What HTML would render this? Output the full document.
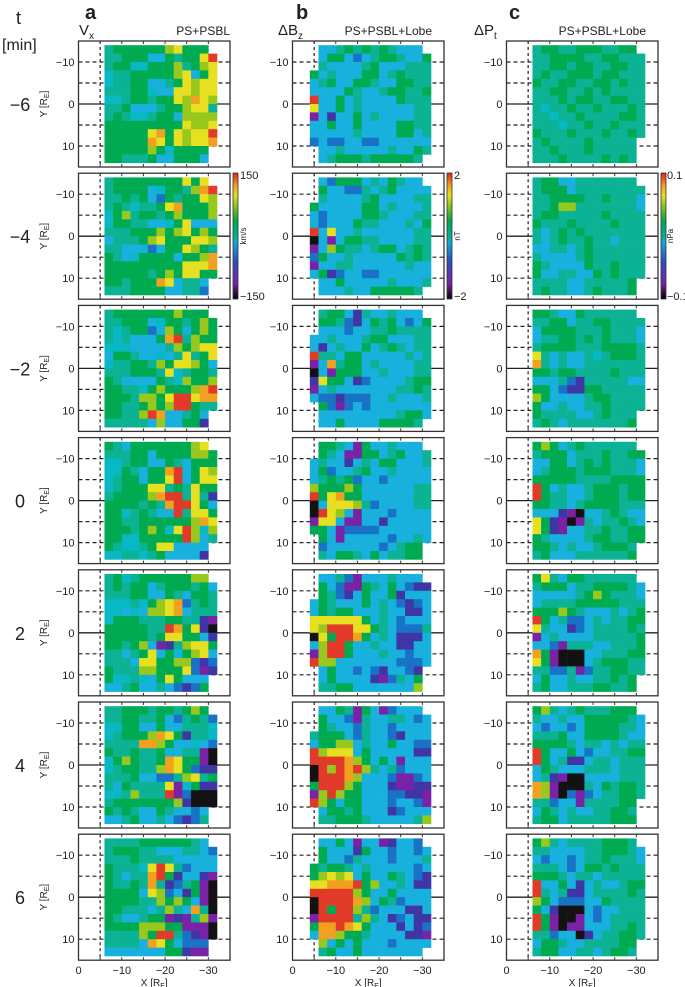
<!DOCTYPE html>
<html><head><meta charset="utf-8"><style>
body{margin:0;background:#fff;width:685px;height:987px;overflow:hidden;font-family:"Liberation Sans",sans-serif}
svg{position:absolute;left:0;top:0}
</style></head><body>
<svg id="fig" width="685" height="987" viewBox="0 0 685 987"></svg>
<script>
// colour codes: K black, P purple, V violet, B blue, S sky, C cyan, T teal, G green, L lime, Y yellow, O orange, R red, . empty
const vxPanels = [
["TGGGGGGLYGGG.","TTGGGSSGTGGYR","TGGCCGGGLTGLY","CTTGGGGGLYSGY","CTTGGSSTGYLYY","TTTGGCSSYYLYY","CCTGGTGGYLOYL","TTGSSSTGGLYYT","TGTCCTGGSLLLL","GGGGGGGGGYLLY","GGGGGYOGYLYYR","GGGGGOYGYLYYO","GGGGGLGCGGGG.","GGTTTGSSGGGS."],
["TGGGGGGGGYGY.","TGGGGSCGGTLOR","TTGTGSBGTGGYL","TGTCTTGYOGGGL","CGLTGGTGLGGGL","CGGTTSSCGYSSS","TTTGGGLGLYGLG","STTTGLYGGGYYL","TTSSSBSGGYLGT","GTSCGGGGSGGLO","GGGGGGGGGYYYO","GGGGGTGLGYYGG","GGTGGGOYSTTS.","TTTGGGGSSTTB."],
["TGGGGGGGLGGG.","TTGGGSCGGTGLG","TCTGGBSLGSGLG","TCTSSSGORTLGG","CCCSSSSTLGLYY","SGGTSSCSTYTGY","CTTGGTLGYYLGS","TTTGGGTYCTGGT","GTSSSSGTCLGGL","GGTTCGLGGGLOR","GGGTLLGYRRYOO","GGTTGLGLRRGTT","GGTTLROSSTGS.","TTTTTSLSSGGV."],
["GTSGGGGGGGLY.","TTTGGSGGGGLLG","CCTGGSSGTSGGG","CCGTSGGORSGYL","CTGGSGGYRSGYY","CTGGGYYTGTYGG","TGGGGLORRTYTV","GGGGTGTORRYGS","GGCTGTSSRTYYG","GGTTGGGGGGLOY","GGGTGLGCYRLCL","GGCCGGGGGRLST","GTCCTGYYSSSS.","CCTTCTGSSSSV."],
["TGCTGGGGGGLL.","TGTGGSTGGGTGS","TTTGGSSGTSGGT","CCCTCGLYOBTGT","CCSCSLLYOSTTT","CGGGTTTGGTTVP","GGGGGTTROGYVK","GGGGGTGYYGGSV","GGTGLSPVTLYYG","TTSTGYSGSGLYS","TTTSYYGGLLBVB","GTTTLLGGGYBPV","GCCTCSGYGSSS.","SSTGSSTSBVBG."],
["TTGGGTGGTGLG.","TTGGTTGSBTGTB","CCGGSSGSSTTTC","CTGGGLOYGVTTC","TTTTOOLGSSCSB","GTTGTTGSSTTPK","CGLGTTGOYGGPK","CTGGTTLOYGBVV","TTTGSSBBTLYTG","TSGTTTTYPCGVV","CCTLTTTRPBKKK","TGGGGGGGLVKKK","GTGTSSGTSSBS.","SSTGSSTSBVBT."],
["TTTTGGGGGGTS.","TGGGTTSSSTTSB","TTTGTTTTSSSSS","GTTTCYRYTBSSS","GTSTTORGVSSVP","GTTGTOTVBTGPK","GGGGSYLBSVGPK","GGGGTTLGLGSPK","GGTTTSTLTSOTK","GTSSTGGPVPTLP","GGGGLLLGGPPPK","TTTTLGRRTBVPK","TTTTSOYGSBBB.","SSSSSSSGGVPP."]
];
const dbzPanels = [
[".SSTGTGTGTSSS.",".SGGSBSTGGTSSG",".TSSSSTGSSSTTT","GSTSSSGGSTGTTT","STGSSGGTSSGGTT","SSSSGTSSTGGTTG","RSSGSTSSSSGTTT","YSSGSTSSSSSSTT","PSVSSGSTSSSSTT","SSGSSGSSSSGGTT","SSSSSTSSSSGGST","BSBBSSBBSSSSSS",".SSTSSSSSTSSGT",".STGGGTGGGGGT."],
[".SBGGGSTSGTSS.",".GSSBBTSTGSSSS",".TSSSSTGSSSSTT","GSSSSSGGSTSSST","SBSSSSGGTSSSTT","SBSSSGTTSSSTSG","RSYSSTSSSSSSTT","KSPSGGTTSSSSTT","PSLGTTSTGGSTGT","BGSSTSSSSSGTGT","PSSTTSSSSSSTSS","SGVBSSBBSSSSSS",".SSGSSSSSTSSST",".SSSTSSGGGGGT."],
[".TGGSVTSSTSSS.",".GGTBVSGTGSBSG",".SSSBSSTTGTTTT","SSTSSSTGGSSSTT","SVSTSSGSTGTSTT","RTTSGGSSSSSTST","PSOTGGSTSSSSTT","KSPGGGSSTSSSTT","VYGGSVBSSSSTGG","PSTSSSSSSSTTGT","SBBVBBBSSTSSST",".GBPBSBSSSSSSS",".SSSSSSSSSTGGS",".SSGSSSSGGGGT."],
[".GGTSPGSSTSSS.",".GTSPPGGSTGSST","STSSVSTSGGSSST","SGBSSTGSSTSSSS","STGTGBSSBSSSSS","LGGGLGSSSSSSTT","RGYOGGSSSSSSTT","KSYYYLTBSSSSTT","KRYLSPSSSBSSSS","PYYSPPSSVSSSSS","GGSPBBBBSSSSSS",".GSPSSSSSBSSTS",".BSSSSSSBSTGG.",".TSGGTSGSTTGG."],
[".SSTBPSSSTSSS.",".GSBPPGTSGSBVV",".GTBVSGSSGVSSS","SGTSSSGSTSBVBS","SGTGGSSSTSSVVS","YYYYYYGSTSBSSS","YLRRRYYGTSBBBT","KYGRROGSTSVVVS","SLRRGSSTSSVVSS","PLRRGSSSTSSBSS","RLLSSSSSSSBBBS",".SGSSBSBVSSBV.",".SGSSSSVPBTSG.",".TTGGSSSSSSSL."],
[".SSGTPGSPBSSS.",".GSSBPTSSTTSBS",".GTSSBTSSBSSSS","TGGGSBTSSBVSSS","SGGLLSTSSGSSBB","RLYYYSGSSSSSVV","RRRROLGSGSPSSS","KRLRORLTSTBSSS","KRRROLSSSBPPBS","GRRRLGSSSVPPVV","PLRLGGSSSBBVVP","RLGSGGSSSBSSBP",".SGGTGSSSVBSSS",".TTGGGTSSSSSTL"],
[".SSGSPSSPVSSB.",".GSSSVGSSBSSBS",".GSSBTSSSBSSST","GTGGTSTSSSSSBS","GLYLYSGSSGTSBV","YYOOORGLSSTSVV","RRRRRLGSSGSSSS","KRRRROLSGTBSSS","KRGRRLTBSSSVVS","PRRRRTLTSVBSVV","GOOROYGSSSVSVB","SOOLGGTSSSSVVP",".LSGSGSSSBSSSS",".TGSSGSSSSSSS."]
];
const dptPanels = [
["TGGTTGGGTTGG.","TTGGGGTTGGTTT","TTGGTGGTTGGTT","TGTTGGGTGGTTT","GTTGGTTGGTGTT","TTGGTTGTGTTTT","TTTGTGGTTGGTT","TCTTGTTGTTTGT","TTCTTGTTTTGGT","TTTCTTGTTGTTT","GTTTGTTTGTTGT","TGTTTTGTTTTT.","TTGTTTGTTTTT.","TTTGTTTTGTGT."],
["TGGSSTTTTTTT.","TGGGSTTTTTTTT","TTGGGGTTGTTTS","TTGLLTTTTTTTS","TGGTTTTTGTTTT","GTTTGTTTTGTTT","TSTGTGTTTTTTT","TSTGTTGTTSTTT","SSTTSTGTTTTTT","TSSSSTGTTTTTT","GTSSSSGTTGTTT","GSSTTSSGTGTTT","TTTTSSTTTTTG.","TGTTSSTGTTTG."],
["GGTSSGTTTTTT.","TTGGSTTGGTTTT","SGGGGTTTGTTTS","STTGGTGTGTTTS","TGGGGTTTGGGGT","YTSTSSTCTGGGT","OTSTSSTTTTTTT","GGTGGTTTTGTTT","SSSTBVTTTTTSS","GGSBVVGGTTTTT","LGSSSSTGGTTTT","GSSTSSTTGTTTT","GTTTTSSTGTTT.","TGTSTTTTTTTG."],
["GLGSTGTTTTTT.","TGGGSTTTGTTGG","SSGGSTGTGTTTS","STGGGTGGGTTTS","GGGGGTTTTGGGG","RGSTSSTGGGTGG","RGTTSSTGGGTGG","GGTTSTGGGGTTT","SSSVPKSSTGTSS","YGVPKPTSTTGTS","YGVPSSTTGTTGG","GTSSSSTGGTTGG","GGTSTSSTGGGT.","TGSSSTTTTTTG."],
["GYTSGGTTTTTT.","TGGGSTTGGGGTS","SSSSSTGLGTTTS","STTTTGGGGGTTT","GGGLGTSSSTSTG","RGSTBBSTSTTGG","YTSSVBSTTTTGT","PSTSSSSTTTTTG","SSBPTTTSSTTTG","OGPKKKSSTTTGG","YGPKKKSTGGGTT","TTBBTPBTTGGTT","SGSSTSSTTGTG.","TGSSTTTGGTTG."],
["GLTSTGTTTGGG.","TSSTSSGGGGGTS","SBSSBSGGGGTTS","TTTGSSGGGGTSS","GGGGTSTTSTSTT","RGSSGSBSSTTGG","RGSTVVSTTSTTT","SGTSSSTTTSTTT","STVPKKSSSSTTT","OLPKKKTSGTGGT","OLPKBPBSTTGGT","TTBSSPTTTTGG.","SGTSTSSTTGGT.","TGGSTTTTTGGG."],
["GLTSTTTTGGGT.","TTSSSSTTGGGTS","SBSSBSTTGTTTS","TTTSBSGGTGTTT","GGGTSTTSTTTTT","RSSGSVSTSSTGG","RTSTVVSTTTTGT","LGSBBBSSGTTTT","GSVKKKSBSSTTT","RGPKKPSBSTTTT","RGPKPPSSSTTGT","TTBSSKVSTTGGT","SGGTSSTTTTGG.","TGGSSTTSTGGT."]
];
const timeLabels = ["−6","−4","−2","0","2","4","6"];
const xTicks = [0,-10,-20,-30];
const yTicks = [-10,0,10];

const COL={K:"#121212",P:"#7a22a6",V:"#3f35a5",B:"#1a72c6",S:"#18b0dc",C:"#08b8c4",T:"#0cb294",G:"#00aa50",L:"#98c81e",Y:"#e6e020",O:"#f2a020",R:"#e23a28"};
const NS="http://www.w3.org/2000/svg";
const svg=document.getElementById('fig');
function mk(t,a,p){const e=document.createElementNS(NS,t);for(const k in a)e.setAttribute(k,a[k]);(p||svg).appendChild(e);return e;}
const colLeft=[78.5,292.5,506.5], W=151.5, H=126, PXU=W/35;
function rowTop(r){return 41+r*132.2;}
function sx(c,xv){return colLeft[c]+(-xv)*PXU;}
function sy(r,yv){return rowTop(r)+(yv+15)*(H/30);}

const sets=[vxPanels,dbzPanels,dptPanels];
for(let c=0;c<3;c++){
 for(let r=0;r<7;r++){
  const g=mk('g',{});
  
  
  mk('line',{x1:sx(c,-5),x2:sx(c,-5),y1:rowTop(r),y2:rowTop(r)+H,stroke:'#222','stroke-width':1.2,'stroke-dasharray':'3,3'},g);
  [-10,-5,5,10].forEach(v=>mk('line',{x1:colLeft[c],x2:colLeft[c]+W,y1:sy(r,v),y2:sy(r,v),stroke:'#222','stroke-width':1.2,'stroke-dasharray':'4,3'},g));
  mk('line',{x1:colLeft[c],x2:colLeft[c]+W,y1:sy(r,0),y2:sy(r,0),stroke:'#222','stroke-width':1.3},g);
  const data=sets[c][r];
  const x0 = c===1 ? -4 : -6;
  for(let i=0;i<data.length;i++){
   const row=data[i];
   for(let j=0;j<row.length;j++){
    const ch=row[j]; if(ch==='.')continue;
    const xa=x0-2*j, ya=-14+2*i;
    const cell=mk('rect',{x:sx(c,xa),y:sy(r,ya),width:2*PXU+0.3,height:2*(H/30)+0.3,fill:COL[ch]},g);
    
    
   }
  }
  const fr=mk('rect',{x:colLeft[c],y:rowTop(r),width:W,height:H,fill:'none',stroke:'#333','stroke-width':1.3},g);
  
  
  for(let v=-5;v>=-30;v-=5){
   mk('line',{x1:sx(c,v),x2:sx(c,v),y1:rowTop(r),y2:rowTop(r)+3,stroke:'#333'},g);
   mk('line',{x1:sx(c,v),x2:sx(c,v),y1:rowTop(r)+H-3,y2:rowTop(r)+H,stroke:'#333'},g);
  }
  yTicks.forEach(v=>{
   const t=mk('text',{x:colLeft[c]-4,y:sy(r,v)+4,'text-anchor':'end','font-size':11,fill:'#222'},g);
   t.textContent=(v<0?'−':'')+Math.abs(v);
   
   
  });
 }
}
for(let r=0;r<7;r++){
 const t=mk('text',{x:20,y:rowTop(r)+70,'text-anchor':'middle','font-size':18,fill:'#222'});
 t.textContent=timeLabels[r];
 
 
 const yt=mk('text',{x:0,y:0,transform:`translate(47,${rowTop(r)+63}) rotate(-90)`,'text-anchor':'middle','font-size':10,fill:'#222'});
 yt.innerHTML='Y [R<tspan font-size="7" dy="2">E</tspan><tspan dy="-2">]</tspan>';
 
 
}
for(let c=0;c<3;c++){
 xTicks.forEach(v=>{
  const t=mk('text',{x:sx(c,v),y:974,'text-anchor':'middle','font-size':11,fill:'#222'});
  t.textContent=(v<0?'−':'')+Math.abs(v);
  
  
 });
 const xt=mk('text',{x:colLeft[c]+W/2,y:986,'text-anchor':'middle','font-size':10,fill:'#222'});
 xt.innerHTML='X [R<tspan font-size="7" dy="2">E</tspan><tspan dy="-2">]</tspan>';
 
 
}
</script>
<svg width="685" height="987" style="pointer-events:none">
<defs><linearGradient id="cm" x1="0" y1="1" x2="0" y2="0">
<stop offset="0" stop-color="#000"/><stop offset="0.12" stop-color="#7a22a6"/><stop offset="0.3" stop-color="#2a50c0"/><stop offset="0.45" stop-color="#10aad8"/><stop offset="0.5" stop-color="#00b08c"/><stop offset="0.62" stop-color="#00a84c"/><stop offset="0.75" stop-color="#98c81e"/><stop offset="0.82" stop-color="#e6e020"/><stop offset="0.9" stop-color="#f2a020"/><stop offset="1" stop-color="#e02020"/>
</linearGradient></defs>
<g font-family="Liberation Sans, sans-serif" fill="#222">
<text x="16" y="24" font-size="18">t</text>
<text x="2" y="50" font-size="16">[min]</text>
<text x="85" y="19" font-size="20" font-weight="bold">a</text>
<text x="296" y="19" font-size="20" font-weight="bold">b</text>
<text x="509" y="19" font-size="20" font-weight="bold">c</text>
<text x="79" y="35" font-size="15">V<tspan font-size="10" dy="4">x</tspan></text>
<text x="230" y="35" font-size="12" text-anchor="end">PS+PSBL</text>
<text x="278" y="35" font-size="15">ΔB<tspan font-size="10" dy="4">z</tspan></text>
<text x="432" y="35" font-size="12" text-anchor="end">PS+PSBL+Lobe</text>
<text x="474" y="35" font-size="15">ΔP<tspan font-size="10" dy="4">t</tspan></text>
<text x="646" y="35" font-size="12" text-anchor="end">PS+PSBL+Lobe</text>
<rect x="233" y="173" width="5" height="126" fill="url(#cm)" stroke="#333" stroke-width="0.8"/>
<text x="240" y="179" font-size="11">150</text>
<text x="240" y="300" font-size="11">−150</text>
<text transform="translate(246,236) rotate(-90)" font-size="8" text-anchor="middle">km/s</text>
<rect x="447" y="173" width="5" height="126" fill="url(#cm)" stroke="#333" stroke-width="0.8"/>
<text x="454" y="179" font-size="11">2</text>
<text x="454" y="300" font-size="11">−2</text>
<text transform="translate(460,236) rotate(-90)" font-size="8" text-anchor="middle">nT</text>
<rect x="661" y="173" width="5" height="126" fill="url(#cm)" stroke="#333" stroke-width="0.8"/>
<text x="667" y="179" font-size="11">0.1</text>
<text x="667" y="300" font-size="11">−0.1</text>
<text transform="translate(673,236) rotate(-90)" font-size="8" text-anchor="middle">nPa</text>
</g></svg>
</body></html>
